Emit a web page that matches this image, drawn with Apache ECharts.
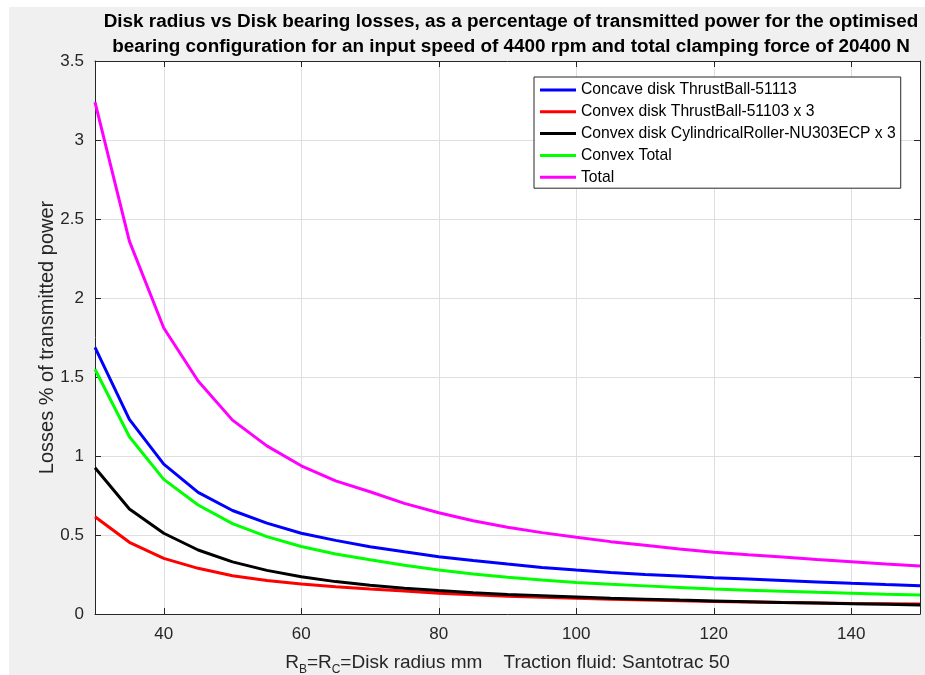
<!DOCTYPE html>
<html><head><meta charset="utf-8">
<script src="https://cdn.jsdelivr.net/npm/echarts@6/dist/echarts.min.js"></script>
<style>html,body{margin:0;padding:0;background:#fff}#c{width:925px;height:675px}</style>
</head><body><div id="c"></div>
<script>
const radius = [30,35,40,45,50,55,60,65,70,75,80,85,90,95,100,105,110,115,120,125,130,135,140,145,150];
const concaveThrust = [1.688,1.232,0.949,0.770,0.655,0.575,0.511,0.466,0.426,0.394,0.363,0.338,0.316,0.295,0.278,0.262,0.250,0.240,0.230,0.221,0.212,0.203,0.194,0.186,0.179];
const convexThrust = [0.616,0.454,0.352,0.289,0.242,0.212,0.190,0.172,0.158,0.145,0.131,0.122,0.113,0.106,0.100,0.094,0.089,0.084,0.079,0.076,0.073,0.070,0.067,0.065,0.063];
const convexRoller = [0.926,0.665,0.511,0.405,0.330,0.276,0.236,0.205,0.182,0.163,0.148,0.135,0.124,0.116,0.108,0.100,0.094,0.088,0.083,0.078,0.073,0.069,0.065,0.061,0.057];
const convexTotal = [1.549,1.122,0.852,0.690,0.572,0.490,0.427,0.380,0.343,0.308,0.278,0.253,0.232,0.215,0.200,0.188,0.178,0.168,0.158,0.151,0.144,0.137,0.131,0.125,0.120];
const total = [3.240,2.360,1.810,1.475,1.227,1.064,0.938,0.843,0.774,0.700,0.641,0.590,0.549,0.515,0.486,0.458,0.435,0.412,0.391,0.375,0.360,0.345,0.331,0.317,0.304];
const seriesNames = ['Concave disk ThrustBall-51113','Convex disk ThrustBall-51103 x 3','Convex disk CylindricalRoller-NU303ECP x 3','Convex Total','Total'];
const seriesColors = ['#0000ff','#ff0000','#000000','#00ff00','#ff00ff'];
const xTicks = [40,60,80,100,120,140];
const yTicks = [0,0.5,1,1.5,2,2.5,3,3.5];
const titleLines = ['Disk radius vs Disk bearing losses, as a percentage of transmitted power for the optimised','bearing configuration for an input speed of 4400 rpm and total clamping force of 20400 N'];

const allData = [concaveThrust, convexThrust, convexRoller, convexTotal, total];
const FONT = 'Liberation Sans, Arial, sans-serif';
const AX = '#262626';
const GRID = '#dfdfdf';

const chart = echarts.init(document.getElementById('c'), null, {renderer:'canvas'});
const series = allData.map((d,i)=>({
  name: seriesNames[i], type:'line', symbol:'none', smooth:false,
  data: radius.map((r,j)=>[r,d[j]]),
  lineStyle:{color:seriesColors[i], width:3}, itemStyle:{color:seriesColors[i]},
  animation:false, z: 3+i
}));
const xAxisBase = {type:'value', min:30, max:150,
  axisLine:{show:true,onZero:false,lineStyle:{color:AX,width:1}},
  axisTick:{show:true,inside:true,length:6,customValues:xTicks,lineStyle:{color:AX}},
  axisLabel:{customValues:xTicks,color:AX,fontSize:17,fontFamily:FONT,margin:12},
  splitLine:{show:true,lineStyle:{color:GRID,width:1}}};
const yAxisBase = {type:'value', min:0, max:3.5, interval:0.5,
  axisLine:{show:true,onZero:false,lineStyle:{color:AX,width:1}},
  axisTick:{show:true,inside:true,length:6,lineStyle:{color:AX}},
  axisLabel:{color:AX,fontSize:17,fontFamily:FONT,margin:11,formatter:v=>String(v)},
  splitLine:{show:true,lineStyle:{color:GRID,width:1}}};

chart.setOption({
  backgroundColor:'#ffffff',
  animation:false,
  graphic:[{type:'rect',left:9,top:7,shape:{width:916,height:668},style:{fill:'#f0f0f0'},z:-10,silent:true}],
  title:{text:titleLines.join('\n'),left:506,textAlign:'center',top:4,
    textStyle:{fontFamily:FONT,fontWeight:'bold',fontSize:18.9,color:'#000',lineHeight:25}},
  grid:{left:95,right:5,top:61,bottom:61,show:true,backgroundColor:'#ffffff',borderWidth:0,containLabel:false,outerBoundsMode:'none'},
  legend:{orient:'vertical',left:534,top:77,padding:[5,5,3,6],itemGap:5.8,itemWidth:36,itemHeight:14,
    backgroundColor:'#ffffff',borderColor:AX,borderWidth:1,borderRadius:0,
    textStyle:{fontFamily:FONT,fontSize:15.7,lineHeight:16,color:'#000'},
    data:seriesNames.map(n=>({name:n,icon:'path://M0,0L36,0L36,3L0,3Z'}))},
  xAxis:[Object.assign({}, xAxisBase, {position:'bottom',
      name:'R{sub|B}=R{sub|C}=Disk radius mm    Traction fluid: Santotrac 50',
      nameLocation:'middle',nameGap:36,
      nameTextStyle:{color:AX,fontSize:19,fontFamily:FONT,verticalAlign:'top',rich:{sub:{fontSize:12,fontFamily:FONT,color:AX,padding:[14,0,0,0]}}}}),
    Object.assign({}, xAxisBase, {position:'top',axisLabel:{show:false,customValues:xTicks},splitLine:{show:false}})],
  yAxis:[Object.assign({}, yAxisBase, {position:'left',name:'Losses % of transmitted power',nameLocation:'middle',nameGap:38,nameMoveOverlap:false,
      nameTextStyle:{color:AX,fontSize:20,fontFamily:FONT}}),
    Object.assign({}, yAxisBase, {position:'right',axisLabel:{show:false},splitLine:{show:false}})],
  series: series
});
</script></body></html>
